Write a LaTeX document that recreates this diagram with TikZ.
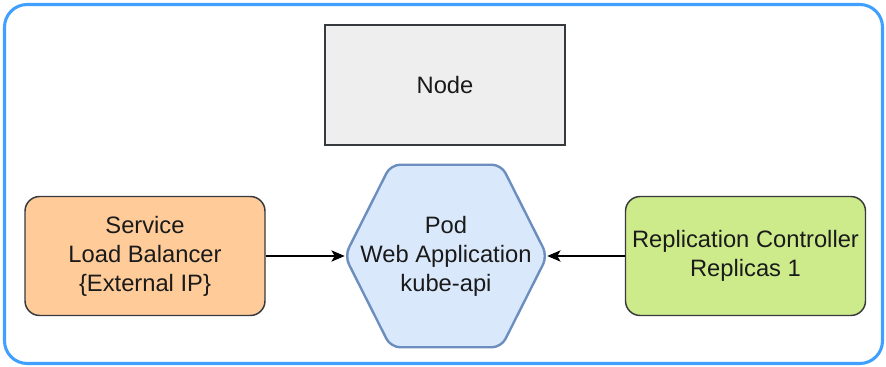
\documentclass[tikz,border=0pt]{standalone}
\usepackage{fontspec}
\setmainfont{Liberation Sans}
\usetikzlibrary{arrows.meta,calc,backgrounds}
\definecolor{framec}{HTML}{3FA0FF}
\definecolor{nodegray}{HTML}{EEEEEE}
\definecolor{boxline}{HTML}{36393D}
\definecolor{svcfill}{HTML}{FFCC99}
\definecolor{rcfill}{HTML}{CDEB8B}
\definecolor{podfill}{HTML}{DAE8FC}
\definecolor{podline}{HTML}{6C8EBF}
\definecolor{txt}{HTML}{1A1A1A}
\tikzset{
  lbl/.style={align=center, text=txt, inner sep=2pt,
    font=\fontsize{17.8}{21.75}\selectfont},
  plainbox/.style={lbl, draw=boxline, line width=1.1pt,
    minimum width=180pt, minimum height=90pt},
  roundbox/.style={lbl, draw=boxline, line width=1.1pt, rounded corners=11pt,
    minimum width=180pt, minimum height=89.25pt},
  hexbox/.style={lbl, minimum width=151.5pt, minimum height=136.5pt},
  hexline/.style={draw=podline, fill=podfill, line width=1.8pt,
    rounded corners=7pt, line join=round},
  conn/.style={draw=black, line width=1.1pt,
    -{Stealth[length=10pt,width=8.5pt,inset=2.5pt]}},
  framebox/.style={draw=framec, line width=2.3pt, rounded corners=17pt}
}
\begin{document}
\begin{tikzpicture}[x=0.75pt,y=-0.75pt]
\useasboundingbox (0,0) rectangle (886,367);
\draw[framebox] (4.5,4.5) rectangle (882.5,363.5);

\node[plainbox, fill=nodegray] (node) at (445,85) {Node};
\node[roundbox, fill=svcfill] (svc) at (145,256) {Service\\Load Balancer\\\{External IP\}};
\node[roundbox, fill=rcfill] (rc) at (745.5,256) {Replication Controller\\Replicas 1};
\node[hexbox] (pod) at (446,256) {Pod\\Web Application\\kube-api};
\begin{scope}[on background layer]
\draw[hexline] (pod.west) -- ($(pod.north west)+(46,0)$) -- ($(pod.north east)+(-46,0)$)
  -- (pod.east) -- ($(pod.south east)+(-46,0)$) -- ($(pod.south west)+(46,0)$) -- cycle;
\end{scope}

\draw[conn] (svc.east) -- (pod.west);
\draw[conn] (rc.west) -- (pod.east);
\end{tikzpicture}
\end{document}
